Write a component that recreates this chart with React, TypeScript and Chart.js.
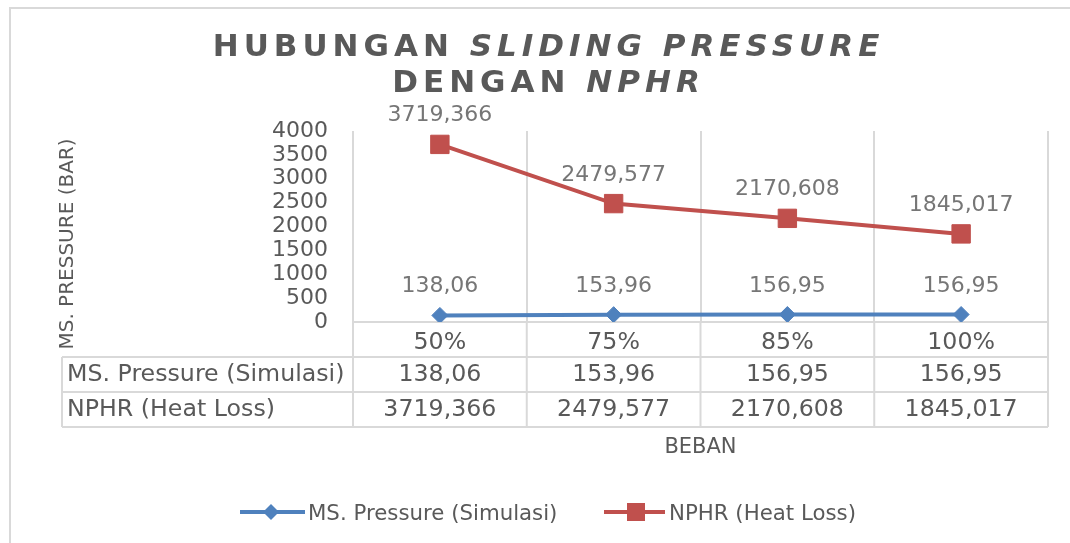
import { useEffect, useRef } from "react";
import { Chart, registerables } from "chart.js";

Chart.register(...registerables);

// ---- data ----
const categories = ["50%", "75%", "85%", "100%"];
const msPressure = [138.06, 153.96, 156.95, 156.95];
const nphr = [3719.366, 2479.577, 2170.608, 1845.017];
const seriesNames = ["MS. Pressure (Simulasi)", "NPHR (Heat Loss)"];
const yMin = 0;
const yMax = 4000;
const yStep = 500;
const titleLine1 = [
  { text: "HUBUNGAN ", italic: false },
  { text: "SLIDING PRESSURE", italic: true },
];
const titleLine2 = [
  { text: "DENGAN ", italic: false },
  { text: "NPHR", italic: true },
];
const yTitle = "MS. PRESSURE (BAR)";
const xTitle = "BEBAN";

// ---- styles ----
const BLUE = "#4F81BD";
const RED = "#C0504D";
const TEXT = "#595959";
const LABEL = "#767676";
const GRID = "#D9D9D9";
const FONT = "'DejaVu Sans', Verdana, sans-serif";

const fmt = (v: number) => String(v).replace(".", ",");

function drawDiamond(ctx: CanvasRenderingContext2D, x: number, y: number, r: number, color: string) {
  ctx.beginPath();
  ctx.moveTo(x - r, y);
  ctx.lineTo(x, y - r);
  ctx.lineTo(x + r, y);
  ctx.lineTo(x, y + r);
  ctx.closePath();
  ctx.fillStyle = color;
  ctx.fill();
}

function drawSquare(ctx: CanvasRenderingContext2D, x: number, y: number, half: number, color: string) {
  ctx.fillStyle = color;
  ctx.fillRect(x - half, y - half, half * 2, half * 2);
}

const overlay = {
  id: "overlay",
  afterDatasetsDraw(chart: any) {
    const ctx: CanvasRenderingContext2D = chart.ctx;
    ctx.save();
    ctx.font = `22px ${FONT}`;
    ctx.fillStyle = LABEL;
    ctx.textAlign = "center";
    ctx.textBaseline = "alphabetic";
    chart.data.datasets.forEach((ds: any, di: number) => {
      const meta = chart.getDatasetMeta(di);
      meta.data.forEach((pt: any, i: number) => {
        ctx.fillText(fmt(ds.data[i]), pt.x, pt.y - 23);
      });
    });
    ctx.restore();
  },
  afterDraw(chart: any) {
    const ctx: CanvasRenderingContext2D = chart.ctx;
    const xs = chart.scales.x;
    const n = categories.length;
    const area = chart.chartArea;
    const bounds: number[] = [];
    for (let i = 0; i <= n; i++) bounds.push(xs.getPixelForValue(i - 0.5));
    const top = area.bottom;
    const rowH = 35;
    const r1 = top + rowH;
    const r2 = r1 + rowH;
    const r3 = r2 + rowH;
    const tableLeft = 62;

    ctx.save();
    // frame
    ctx.strokeStyle = GRID;
    ctx.lineWidth = 2;
    ctx.beginPath();
    ctx.moveTo(10, 543);
    ctx.lineTo(10, 8);
    ctx.lineTo(1070, 8);
    ctx.stroke();

    // data table lines
    ctx.beginPath();
    bounds.forEach((bx) => {
      ctx.moveTo(bx, top);
      ctx.lineTo(bx, r3);
    });
    [r1, r2, r3].forEach((ry) => {
      ctx.moveTo(tableLeft, ry);
      ctx.lineTo(bounds[n], ry);
    });
    ctx.moveTo(tableLeft, r1);
    ctx.lineTo(tableLeft, r3);
    ctx.stroke();

    // table text
    ctx.fillStyle = TEXT;
    ctx.textBaseline = "alphabetic";
    ctx.font = `23.7px ${FONT}`;
    ctx.textAlign = "center";
    categories.forEach((c, i) => {
      ctx.fillText(c, xs.getPixelForValue(i), top + 27);
    });
    const rows = [msPressure, nphr];
    rows.forEach((vals, ri) => {
      const base = r1 + rowH * ri + 24;
      ctx.textAlign = "left";
      ctx.fillText(seriesNames[ri], tableLeft + 5, base);
      ctx.textAlign = "center";
      vals.forEach((v, i) => ctx.fillText(fmt(v), xs.getPixelForValue(i), base));
    });

    // x axis title
    ctx.font = `21px ${FONT}`;
    ctx.textAlign = "center";
    ctx.fillText(xTitle, (area.left + area.right) / 2, 453);

    // y axis title
    ctx.save();
    ctx.translate(73, 244);
    ctx.rotate(-Math.PI / 2);
    ctx.font = `20px ${FONT}`;
    ctx.textAlign = "center";
    ctx.fillText(yTitle, 0, 0);
    ctx.restore();

    // legend
    const ly = 512;
    ctx.lineWidth = 4;
    ctx.strokeStyle = BLUE;
    ctx.beginPath();
    ctx.moveTo(240, ly);
    ctx.lineTo(305, ly);
    ctx.stroke();
    drawDiamond(ctx, 271, ly, 8, BLUE);
    ctx.strokeStyle = RED;
    ctx.beginPath();
    ctx.moveTo(604, ly);
    ctx.lineTo(665, ly);
    ctx.stroke();
    drawSquare(ctx, 636, ly, 9, RED);
    ctx.fillStyle = TEXT;
    ctx.font = `21.3px ${FONT}`;
    ctx.textAlign = "left";
    ctx.fillText(seriesNames[0], 308, ly + 7.5);
    ctx.fillText(seriesNames[1], 669, ly + 7.5);

    // title
    const spacing = 5;
    (ctx as any).letterSpacing = `${spacing}px`;
    ctx.fillStyle = TEXT;
    const drawLine = (segs: { text: string; italic: boolean }[], baseline: number) => {
      const widths = segs.map((s) => {
        ctx.font = `${s.italic ? "italic " : ""}bold 31px ${FONT}`;
        return ctx.measureText(s.text).width;
      });
      const total = widths.reduce((a, b) => a + b, 0) - spacing;
      let x = 546 - total / 2;
      segs.forEach((s, i) => {
        ctx.font = `${s.italic ? "italic " : ""}bold 31px ${FONT}`;
        ctx.fillText(s.text, x, baseline);
        x += widths[i];
      });
    };
    ctx.textAlign = "left";
    drawLine(titleLine1, 56);
    drawLine(titleLine2, 92);
    ctx.restore();
  },
};

export default function App() {
  const ref = useRef<HTMLCanvasElement | null>(null);
  useEffect(() => {
    if (!ref.current) return;
    const chart = new Chart(ref.current, {
      type: "line",
      data: {
        labels: categories,
        datasets: [
          {
            label: seriesNames[0],
            data: msPressure,
            borderColor: BLUE,
            backgroundColor: BLUE,
            borderWidth: 4,
            pointStyle: "rectRot",
            pointRadius: 8,
            pointBorderWidth: 1,
            pointBackgroundColor: BLUE,
            pointBorderColor: BLUE,
            tension: 0,
          },
          {
            label: seriesNames[1],
            data: nphr,
            borderColor: RED,
            backgroundColor: RED,
            borderWidth: 4,
            pointStyle: "rect",
            pointRadius: 13,
            pointBorderWidth: 1,
            pointBackgroundColor: RED,
            pointBorderColor: RED,
            tension: 0,
          },
        ],
      },
      options: {
        responsive: false,
        animation: false,
        devicePixelRatio: 1,
        layout: { padding: { left: 0, right: 22, top: 131, bottom: 221 } },
        plugins: {
          legend: { display: false },
          title: { display: false },
          tooltip: { enabled: false },
        },
        scales: {
          x: {
            type: "category",
            offset: true,
            grid: { offset: true, color: GRID, lineWidth: 2, drawTicks: false },
            border: { display: true, color: GRID, width: 2 },
            ticks: { display: false },
            afterFit(s: any) {
              s.height = 0;
            },
          },
          y: {
            min: yMin,
            max: yMax,
            ticks: {
              stepSize: yStep,
              autoSkip: false,
              padding: 25,
              color: TEXT,
              font: { family: FONT, size: 22 },
              callback: (v: any) => String(v),
            },
            grid: { display: false, drawTicks: false },
            border: { display: false },
            afterFit(s: any) {
              s.width = 353;
            },
          },
        },
      },
      plugins: [overlay],
    } as any);
    return () => chart.destroy();
  }, []);
  return (
    <div style={{ position: "absolute", left: 0, top: 0, width: 1070, height: 543, background: "#fff" }}>
      <canvas ref={ref} width={1070} height={543} style={{ display: "block", width: 1070, height: 543 }} />
    </div>
  );
}
